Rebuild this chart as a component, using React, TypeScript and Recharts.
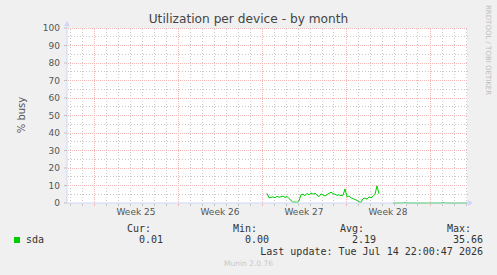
import { CartesianGrid, Line, LineChart, ReferenceLine, XAxis, YAxis } from "recharts";

const TITLE = "Utilization per device - by month";
const Y_LABEL = "% busy";

// x axis in hours since the left edge of the graph
const weekStarts = [54, 222, 390, 558, 726];
const weekLabels = ["Week 25", "Week 26", "Week 27", "Week 28"];
const yTicks = [0, 10, 20, 30, 40, 50, 60, 70, 80, 90, 100];

const sdaStartHour = 400;
const sdaStepHours = 4;
const sdaBusy: (number | null)[] = [
  5.5, 3.0, 3.2, 3.5, 3.0, 3.8, 3.3, 3.6, 4.0, 3.2,
  3.8, 2.5, 1.5, 0.4, 0.6, 0.3, 1.2, 4.8, 5.0, 4.2,
  5.5, 4.6, 5.8, 5.0, 5.6, 4.5, 3.6, 5.2, 4.6, 4.0,
  4.8, 5.5, 6.2, 5.4, 5.0, 4.4, 4.7, 4.2, 4.5, 8.0,
  3.5, 4.0, 3.0, 2.5, 2.0, 1.5, 0.6, 0.4, 2.5, 2.8,
  2.2, 3.5, 3.0, 3.8, 5.0, 9.8, 5.2,
  null, null, null, null, null, null,
  0, 0, 0, 0, 0, 0, 0.4, 0, 0, 0,
  0, 0, 0, 0, 0, 0, 0, 0, 0, 0,
  0, 0, 0, 0, 0, 0.4, 0, 0, 0, 0,
  0, 0, 0, 0, 0, 0, 0, 0,
];

const legendHeads = [
  { text: "Cur:", x: 127 },
  { text: "Min:", x: 233 },
  { text: "Avg:", x: 340 },
  { text: "Max:", x: 447 },
];
const legendValues = ["0.01", "0.00", "2.19", "35.66"];
const valueRight = [163, 269, 376, 483];
const LAST_UPDATE = "Last update: Tue Jul 14 22:00:47 2026";

const RED = "#f3b9b9";
const GRAY = "#c8c8c8";
const AXIS = "#cfd6f8";
const GREEN = "#00cc00";
const MONO = "'DejaVu Sans Mono', monospace";
const SANS = "'DejaVu Sans', sans-serif";

const data = sdaBusy.map((v, i) => ({ hour: sdaStartHour + i * sdaStepHours, sda: v }));
const weekCenters = weekStarts.slice(0, weekLabels.length).map((w) => w + 84);
const dayLines: number[] = [];
for (let h = 6; h < 800; h += 24) if (!weekStarts.includes(h)) dayLines.push(h);
const minorY = yTicks.slice(0, -1).map((t) => t + 5);

// snap grid lines to whole pixels so the dotted pattern stays sharp
const snap = (v: number) => Math.floor(v) + 0.5;
const crisp = (color: string, dash?: string) => (p: any) => (
  <line
    x1={snap(p.x1)}
    y1={snap(p.y1)}
    x2={snap(p.x2)}
    y2={snap(p.y2)}
    stroke={color}
    strokeWidth={1}
    strokeDasharray={dash}
    shapeRendering="crispEdges"
  />
);

export default function App() {
  return (
    <div style={{ position: "absolute", left: 0, top: 0, width: 497, height: 275, background: "#f0f0f0", fontFamily: SANS }}>
      <LineChart width={497} height={275} data={data} margin={{ top: 28, right: 30, bottom: 52, left: 37 }}>
        <CartesianGrid fill="#ffffff" horizontal={false} vertical={false} />
        {minorY.map((v) => (
          <ReferenceLine key={"my" + v} y={v} shape={crisp(GRAY, "1 2")} />
        ))}
        {dayLines.map((h) => (
          <ReferenceLine key={"dx" + h} x={h} shape={crisp(GRAY, "1 2")} />
        ))}
        {dayLines.map((h) => (
          <ReferenceLine key={"dt" + h} segment={[{ x: h, y: 0 }, { x: h, y: -1.2 }]} shape={crisp(GRAY)} ifOverflow="visible" />
        ))}
        {yTicks.slice(1).map((v) => (
          <ReferenceLine key={"My" + v} y={v} shape={crisp(RED, "1 1")} />
        ))}
        {weekStarts.map((h) => (
          <ReferenceLine key={"Mx" + h} x={h} shape={crisp(RED, "1 1")} />
        ))}
        {weekStarts.map((h) => (
          <ReferenceLine key={"Mt" + h} segment={[{ x: h, y: 0 }, { x: h, y: -1.5 }]} shape={crisp(RED)} ifOverflow="visible" />
        ))}
        <XAxis
          type="number"
          dataKey="hour"
          domain={[0, 800]}
          ticks={weekCenters}
          tickFormatter={(v) => weekLabels[weekCenters.indexOf(v)] ?? ""}
          interval={0}
          height={20}
          tickLine={false}
          tickSize={0}
          tickMargin={5.5}
          axisLine={{ stroke: AXIS }}
          tick={{ fontSize: 9, fill: "#555", fontFamily: SANS }}
        />
        <YAxis
          type="number"
          domain={[0, 100]}
          ticks={yTicks}
          interval={0}
          width={30}
          tickSize={3}
          tickMargin={4}
          tickLine={{ stroke: "#c0c0c0" }}
          axisLine={{ stroke: AXIS }}
          tick={{ fontSize: 9, fill: "#555", fontFamily: SANS }}
        />
        <Line
          type="linear"
          dataKey="sda"
          stroke={GREEN}
          strokeWidth={1}
          dot={false}
          connectNulls={false}
          isAnimationActive={false}
        />
      </LineChart>

      <svg width={497} height={275} style={{ position: "absolute", left: 0, top: 0, pointerEvents: "none" }}>
        <line x1={67} y1={28} x2={67} y2={24} stroke={AXIS} />
        <polygon points="64,26 67,21 70,26" fill={AXIS} />
        <line x1={467} y1={203} x2={470} y2={203} stroke={AXIS} />
        <polygon points="468,200 473,203 468,206" fill={AXIS} />
      </svg>

      <div style={{ position: "absolute", left: 0, top: 11, width: 497, textAlign: "center", fontSize: 12.2, color: "#444", lineHeight: "16px" }}>
        {TITLE}
      </div>
      <div
        style={{
          position: "absolute",
          left: 21,
          top: 115,
          transform: "translate(-50%, -50%) rotate(-90deg)",
          fontSize: 10,
          color: "#555",
          whiteSpace: "nowrap",
        }}
      >
        {Y_LABEL}
      </div>
      <div style={{ position: "absolute", left: 484, top: 5, writingMode: "vertical-rl", fontSize: 7, color: "#bdbdbd", whiteSpace: "nowrap" }}>
        RRDTOOL / TOBI OETIKER
      </div>

      <div style={{ position: "absolute", left: 14, top: 237, width: 6, height: 6, background: GREEN }} />
      <div style={{ position: "absolute", left: 26, top: 234, fontFamily: MONO, fontSize: 10, lineHeight: "12px", color: "#333" }}>sda</div>
      {legendHeads.map((h) => (
        <div key={h.text} style={{ position: "absolute", left: h.x, top: 222.5, fontFamily: MONO, fontSize: 10, lineHeight: "12px", color: "#333" }}>
          {h.text}
        </div>
      ))}
      {legendValues.map((v, i) => (
        <div
          key={i}
          style={{ position: "absolute", right: 497 - valueRight[i], top: 234, fontFamily: MONO, fontSize: 10, lineHeight: "12px", color: "#333" }}
        >
          {v}
        </div>
      ))}
      <div style={{ position: "absolute", right: 497 - 483, top: 246, fontFamily: MONO, fontSize: 10, lineHeight: "12px", color: "#333", whiteSpace: "pre" }}>
        {LAST_UPDATE}
      </div>
      <div style={{ position: "absolute", left: 0, top: 259, width: 497, textAlign: "center", fontSize: 7.5, lineHeight: "10px", color: "#c8c8c8" }}>
        Munin 2.0.76
      </div>
    </div>
  );
}
